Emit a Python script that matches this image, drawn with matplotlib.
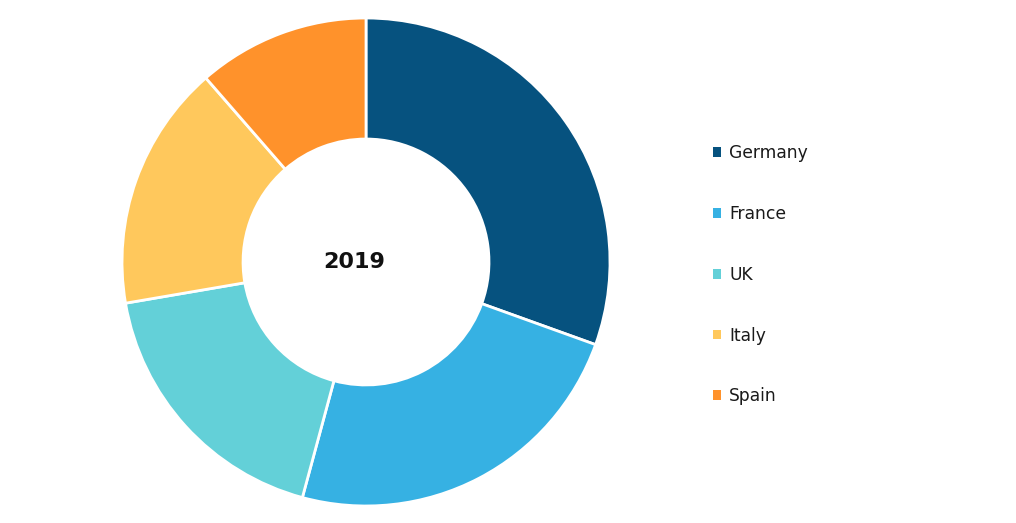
import matplotlib
matplotlib.use("Agg")
import matplotlib.pyplot as plt
from matplotlib.patches import Patch

plt.rcParams["font.family"] = ["DejaVu Sans"]

countries = ["Germany", "France", "UK", "Italy", "Spain"]
shares = [30.5, 23.7, 18.1, 16.3, 11.4]
colors = ["#06527F", "#36B1E3", "#63D0D8", "#FFC85C", "#FF922B"]
center_label = "2019"

fig = plt.figure(figsize=(10.16, 5.23), dpi=100)
ax = fig.add_axes([0.1201, 0.0325, 0.4803, 0.9331])
ax.pie(shares, colors=colors, startangle=90, counterclock=False, radius=1,
       wedgeprops=dict(width=0.496, edgecolor="white", linewidth=2))
ax.set_xlim(-1, 1)
ax.set_ylim(-1, 1)
ax.set_aspect("equal")
ax.axis("off")
ax.text(-0.05, 0.0, center_label, ha="center", va="center",
        fontsize=16, fontweight="semibold", color="#111111")

# legend on the right
handles = [Patch(facecolor=c, edgecolor="none") for c in colors]
leg = fig.legend(handles, countries, loc="upper left", bbox_to_anchor=(0.695, 0.737),
                 frameon=False, fontsize=12.3, handlelength=0.5, handleheight=0.5,
                 handletextpad=0.45, labelspacing=2.5, borderaxespad=0)
for t in leg.get_texts():
    t.set_color("#1a1a1a")

fig.savefig("out.png", dpi=100, facecolor="white")
